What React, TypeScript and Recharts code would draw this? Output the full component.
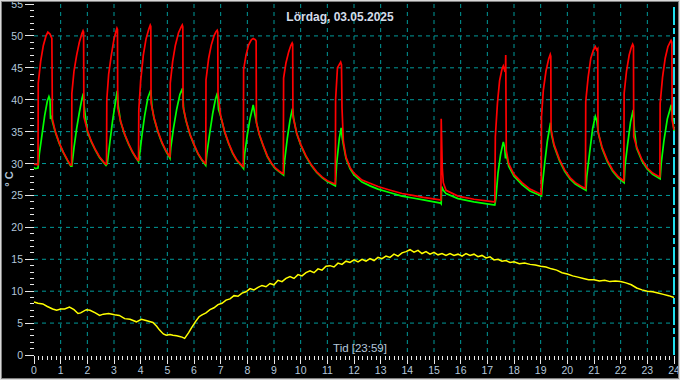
import { LineChart, Line, XAxis, YAxis, CartesianGrid, ReferenceLine } from 'recharts'

// supply temperature (red), hours -> °C
const supplyTemp: [number, number][] = [
  [0, 29.9], [0.15, 29.8], [0.16, 42.6], [0.25, 46.0], [0.35, 48.5], [0.45, 50.0], [0.52, 50.6], [0.6, 50.3], [0.67, 49.6], [0.69, 37.0], [0.8, 35.0], [0.95, 33.2], [1.1, 31.8], [1.25, 30.6], [1.36, 29.8],
  [1.41, 29.8], [1.42, 41.0], [1.5, 44.5], [1.6, 47.0], [1.7, 49.0], [1.8, 50.4], [1.84, 50.8], [1.86, 50.6], [1.87, 37.3], [2.0, 35.2], [2.15, 33.5], [2.3, 32.2], [2.45, 31.1], [2.6, 30.3], [2.69, 29.9],
  [2.72, 29.9], [2.73, 40.0], [2.8, 44.0], [2.9, 47.0], [3.0, 49.5], [3.08, 50.8], [3.11, 51.2], [3.13, 51.0], [3.14, 38.7], [3.25, 36.6], [3.4, 34.6], [3.55, 33.1], [3.7, 31.8], [3.82, 31.0], [3.9, 30.5],
  [3.92, 30.5], [3.93, 38.4], [4.0, 43.0], [4.1, 47.0], [4.2, 49.5], [4.3, 51.0], [4.36, 51.7], [4.38, 51.5], [4.39, 39.5], [4.5, 37.2], [4.65, 35.0], [4.8, 33.3], [4.95, 32.0], [5.09, 31.1],
  [5.1, 31.1], [5.11, 42.6], [5.2, 46.0], [5.3, 48.5], [5.42, 50.5], [5.52, 51.4], [5.56, 51.7], [5.58, 51.4], [5.59, 39.0], [5.7, 36.8], [5.85, 34.6], [6.0, 33.0], [6.15, 31.6], [6.3, 30.6], [6.43, 30.0],
  [6.44, 30.0], [6.45, 43.1], [6.55, 46.5], [6.65, 48.6], [6.75, 50.0], [6.83, 50.7], [6.87, 50.9], [6.89, 50.6], [6.9, 41.0], [7.0, 37.5], [7.15, 35.0], [7.3, 33.2], [7.45, 31.7], [7.6, 30.6], [7.75, 29.9], [7.84, 29.5],
  [7.85, 29.5], [7.86, 44.7], [7.95, 47.0], [8.05, 48.6], [8.15, 49.4], [8.22, 49.6], [8.3, 49.4], [8.33, 49.2], [8.34, 36.4], [8.45, 34.6], [8.6, 32.8], [8.75, 31.2], [8.9, 30.1], [9.05, 29.3], [9.2, 28.8], [9.34, 28.4],
  [9.35, 28.4], [9.36, 43.4], [9.45, 45.8], [9.55, 47.5], [9.63, 48.5], [9.68, 48.9], [9.7, 48.7], [9.71, 37.4], [9.85, 34.8], [10.0, 33.0], [10.2, 31.2], [10.4, 29.8], [10.6, 28.7], [10.8, 27.9], [11.0, 27.3], [11.28, 26.8],
  [11.3, 26.8], [11.31, 40.0], [11.38, 45.0], [11.5, 45.9], [11.53, 45.5], [11.55, 38.7], [11.6, 33.5], [11.7, 31.0], [11.85, 29.4], [12.0, 28.5], [12.3, 27.4], [12.6, 26.9], [12.9, 26.4], [13.3, 25.9], [13.8, 25.3], [14.2, 25.0], [14.6, 24.7], [15.23, 24.3],
  [15.26, 24.3], [15.27, 37.0], [15.31, 29.3], [15.35, 27.0], [15.45, 25.8], [15.9, 24.9], [16.5, 24.4], [17.25, 24.0],
  [17.28, 24.0], [17.3, 34.2], [17.38, 39.5], [17.46, 43.0], [17.55, 44.8], [17.6, 45.3], [17.65, 44.6], [17.68, 44.8], [17.69, 47.0], [17.71, 32.1], [17.8, 30.0], [18.0, 28.3], [18.3, 27.0], [18.6, 26.0], [19.01, 25.2],
  [19.02, 25.2], [19.03, 37.3], [19.1, 41.5], [19.2, 44.5], [19.3, 46.4], [19.36, 47.1], [19.38, 46.8], [19.39, 35.3], [19.5, 33.0], [19.7, 30.7], [19.9, 29.0], [20.1, 27.8], [20.3, 27.0], [20.5, 26.5], [20.67, 26.1],
  [20.68, 26.1], [20.69, 39.7], [20.78, 43.5], [20.88, 46.5], [20.98, 47.8], [21.05, 48.3], [21.1, 47.8], [21.14, 48.0], [21.15, 35.0], [21.3, 32.6], [21.5, 30.5], [21.7, 29.0], [21.9, 28.0], [22.11, 27.3],
  [22.12, 27.3], [22.13, 41.0], [22.22, 44.5], [22.32, 47.0], [22.4, 48.2], [22.45, 48.7], [22.48, 48.4], [22.49, 34.2], [22.6, 32.6], [22.8, 30.6], [23.0, 29.3], [23.2, 28.5], [23.46, 27.9],
  [23.47, 27.9], [23.48, 39.4], [23.57, 43.5], [23.67, 46.5], [23.77, 48.3], [23.85, 49.0], [23.89, 49.3], [23.92, 49.0], [23.93, 36.8], [24.0, 35.3],
]

// return temperature (green)
const returnTemp: [number, number][] = [
  [0, 29.4], [0.05, 29.2], [0.15, 29.3], [0.2, 31.5], [0.3, 34.5], [0.4, 37.5], [0.5, 39.8], [0.56, 40.5], [0.6, 40.0], [0.62, 37.0], [0.66, 37.5], [0.69, 36.6], [0.8, 34.9], [0.95, 33.1], [1.1, 31.7], [1.25, 30.5], [1.38, 29.6],
  [1.42, 29.6], [1.5, 32.5], [1.6, 35.5], [1.7, 38.0], [1.8, 40.2], [1.85, 41.0], [1.88, 39.0], [2.0, 35.0], [2.15, 33.4], [2.3, 32.1], [2.45, 31.0], [2.6, 30.2], [2.7, 29.7],
  [2.75, 30.0], [2.85, 33.5], [2.95, 36.8], [3.05, 39.5], [3.12, 41.4], [3.16, 39.0], [3.25, 36.5], [3.4, 34.5], [3.55, 33.0], [3.7, 31.7], [3.82, 30.9], [3.92, 30.3],
  [3.95, 31.0], [4.05, 34.5], [4.15, 37.5], [4.27, 40.3], [4.38, 41.5], [4.42, 39.0], [4.5, 37.1], [4.65, 34.9], [4.8, 33.2], [4.95, 31.9], [5.1, 30.8],
  [5.13, 32.5], [5.23, 35.5], [5.35, 38.5], [5.47, 40.8], [5.57, 41.8], [5.61, 38.5], [5.7, 36.7], [5.85, 34.5], [6.0, 32.9], [6.15, 31.5], [6.3, 30.5], [6.44, 29.7],
  [6.48, 31.5], [6.58, 34.5], [6.7, 37.8], [6.8, 40.0], [6.88, 41.1], [6.92, 38.5], [7.0, 37.4], [7.15, 34.9], [7.3, 33.1], [7.45, 31.6], [7.6, 30.5], [7.75, 29.8], [7.86, 29.2],
  [7.9, 31.5], [8.0, 34.5], [8.1, 37.0], [8.22, 39.2], [8.27, 38.0], [8.35, 36.3], [8.45, 34.5], [8.6, 32.7], [8.75, 31.1], [8.9, 30.0], [9.05, 29.2], [9.2, 28.7], [9.36, 28.2],
  [9.4, 30.5], [9.5, 34.0], [9.6, 36.8], [9.69, 38.6], [9.74, 37.0], [9.85, 34.7], [10.0, 32.9], [10.2, 31.1], [10.4, 29.7], [10.6, 28.6], [10.8, 27.8], [11.0, 27.2], [11.3, 26.5],
  [11.35, 30.0], [11.45, 34.0], [11.52, 35.6], [11.56, 34.0], [11.6, 33.0], [11.7, 30.8], [11.85, 29.2], [12.0, 28.2], [12.3, 27.1], [12.6, 26.5], [12.9, 26.0], [13.3, 25.5], [13.8, 24.9], [14.2, 24.6], [14.6, 24.3], [15.25, 23.8],
  [15.27, 23.7], [15.29, 26.4], [15.35, 25.8], [15.45, 25.3], [15.9, 24.5], [16.5, 24.0], [17.28, 23.5],
  [17.32, 24.5], [17.4, 28.5], [17.5, 31.5], [17.6, 33.4], [17.65, 32.5], [17.68, 30.8], [17.71, 31.5], [17.8, 29.6], [18.0, 28.0], [18.3, 26.7], [18.6, 25.7], [19.03, 24.9],
  [19.06, 26.5], [19.15, 30.0], [19.25, 33.5], [19.37, 36.4], [19.41, 34.5], [19.5, 32.8], [19.7, 30.5], [19.9, 28.8], [20.1, 27.6], [20.3, 26.8], [20.5, 26.3], [20.7, 25.8],
  [20.73, 28.0], [20.83, 31.5], [20.95, 35.5], [21.05, 37.4], [21.1, 36.8], [21.17, 34.6], [21.3, 32.4], [21.5, 30.3], [21.7, 28.8], [21.9, 27.8], [22.13, 27.0],
  [22.16, 29.5], [22.26, 33.0], [22.37, 36.5], [22.47, 38.4], [22.52, 35.0], [22.6, 32.4], [22.8, 30.4], [23.0, 29.1], [23.2, 28.3], [23.48, 27.6],
  [23.52, 30.0], [23.62, 33.5], [23.75, 37.0], [23.9, 39.2], [23.95, 37.0], [24.0, 35.1],
]

// outdoor temperature (yellow)
const outdoorTemp: [number, number][] = [
  [0, 8.3], [0.15, 8.1], [0.33, 8.0], [0.5, 7.6], [0.7, 7.2], [0.85, 7.0], [1.0, 7.2], [1.15, 7.2], [1.33, 7.5], [1.5, 7.1], [1.65, 6.5], [1.75, 6.6],
  [1.96, 7.1], [2.1, 7.0], [2.3, 6.6], [2.46, 6.2], [2.6, 6.4], [2.8, 6.5], [3.02, 6.3], [3.2, 6.2], [3.4, 5.7], [3.6, 5.6], [3.84, 5.2], [4.03, 5.6],
  [4.2, 5.4], [4.46, 5.1], [4.6, 4.5], [4.71, 3.9], [4.85, 3.3], [4.96, 3.1], [5.1, 3.2], [5.21, 3.1], [5.35, 3.0], [5.46, 2.9], [5.55, 2.8], [5.65, 2.6],
  [5.8, 3.5], [5.9, 4.2], [6.05, 5.2], [6.19, 6.0], [6.3, 6.3], [6.45, 6.6], [6.6, 7.1], [6.75, 7.4], [6.9, 7.9], [7.05, 8.1], [7.2, 8.6], [7.35, 8.8],
  [7.5, 9.3], [7.65, 9.2], [7.8, 9.7], [7.95, 9.9], [8.1, 10.4], [8.25, 10.2], [8.4, 10.6], [8.55, 10.9], [8.7, 10.7], [8.85, 11.2], [9.0, 11.0], [9.15, 11.7],
  [9.3, 11.5], [9.45, 12.0], [9.6, 12.3], [9.75, 12.0], [9.9, 12.6], [10.05, 12.4], [10.2, 12.9], [10.35, 13.2], [10.5, 12.9], [10.65, 13.5], [10.8, 13.3],
  [10.95, 13.9], [11.1, 14.0], [11.25, 13.8], [11.4, 14.4], [11.55, 14.2], [11.7, 14.7], [11.85, 14.5], [12.0, 14.9], [12.15, 14.6], [12.3, 15.0], [12.45, 14.7],
  [12.6, 15.1], [12.75, 14.8], [12.9, 15.3], [13.05, 15.1], [13.2, 15.5], [13.35, 15.3], [13.5, 15.8], [13.65, 15.5], [13.8, 16.0], [13.95, 16.2], [14.1, 16.5],
  [14.25, 16.1], [14.4, 16.4], [14.55, 15.9], [14.7, 16.2], [14.85, 15.8], [15.0, 16.1], [15.15, 15.7], [15.3, 15.9], [15.45, 15.6], [15.6, 15.9], [15.75, 15.6],
  [15.9, 15.8], [16.05, 15.5], [16.2, 15.9], [16.35, 15.6], [16.5, 15.8], [16.65, 15.4], [16.8, 15.6], [16.95, 15.2], [17.1, 15.4], [17.25, 14.9], [17.4, 15.0],
  [17.55, 14.7], [17.7, 14.8], [17.85, 14.5], [18.0, 14.6], [18.2, 14.3], [18.4, 14.4], [18.6, 14.2], [18.8, 14.1], [19.0, 13.9], [19.2, 13.8], [19.4, 13.5],
  [19.6, 13.3], [19.8, 12.9], [20.0, 12.7], [20.2, 12.4], [20.4, 12.2], [20.6, 12.0], [20.8, 11.8], [21.0, 11.8], [21.2, 11.6], [21.4, 11.7], [21.6, 11.5],
  [21.8, 11.6], [22.0, 11.5], [22.2, 11.3], [22.4, 11.0], [22.6, 10.5], [22.8, 10.2], [23.0, 10.0], [23.2, 9.9], [23.4, 9.7], [23.6, 9.5], [23.8, 9.3], [24.0, 9.0],
]

const hourLabels = [0, 1, 2, 3, 4, 5, 6, 7, 8, 9, 10, 11, 12, 13, 14, 15, 16, 17, 18, 19, 20, 21, 22, 23, 24]
const tempLabels = [0, 5, 10, 15, 20, 25, 30, 35, 40, 45, 50, 55]

const minorX: number[] = []
for (let i = 0; i <= 24 * 6; i++) minorX.push(i / 6)
const minorY: number[] = []
for (let i = 0; i <= 55; i++) minorY.push(i)

const toRows = (pts: [number, number][]) => pts.map(([t, v]) => ({ t, v }))

const LEFT = 34
const BOTTOM = 355
const labelColor = '#b4c8dc'
const font = '"Liberation Sans", Arial, sans-serif'

const YTick = (props: any) => {
  const { y, payload } = props
  const v = payload.value
  const major = tempLabels.includes(v)
  return (
    <g>
      <line x1={major ? 25 : 30} x2={LEFT} y1={y} y2={y} stroke="#e8e8e8" shapeRendering="crispEdges" />
      {major && (
        <text x={23} y={y + 4} textAnchor="end" fill={labelColor} fontSize={10.5} fontFamily={font}>
          {v}
        </text>
      )}
    </g>
  )
}

const XTick = (props: any) => {
  const { x, payload } = props
  const v = payload.value
  const h = Math.round(v)
  const major = Math.abs(v - h) < 1e-6 && hourLabels.includes(h)
  return (
    <g>
      <line x1={x} x2={x} y1={BOTTOM + 1} y2={BOTTOM + (major ? 9 : 5)} stroke="#e8e8e8" shapeRendering="crispEdges" />
      {major && (
        <text x={x} y={BOTTOM + 19} textAnchor="middle" fill={labelColor} fontSize={10.5} fontFamily={font}>
          {h}
        </text>
      )}
    </g>
  )
}

export default function App() {
  return (
    <div style={{ position: 'fixed', left: 0, top: 0, width: 680, height: 380, background: '#000' }}>
      <LineChart width={680} height={380} margin={{ top: 4, right: 6, left: 0, bottom: 0 }}>
        <CartesianGrid
          stroke="#009a9a"
          strokeDasharray="4 4"
          horizontalValues={tempLabels.slice(1, -1)}
          verticalValues={hourLabels.slice(1, -1)}
        />
        <XAxis
          type="number"
          dataKey="t"
          domain={[0, 24]}
          ticks={minorX}
          interval={0}
          axisLine={false}
          tickLine={false}
          tick={<XTick />}
          height={25}
        />
        <YAxis
          type="number"
          domain={[0, 55]}
          ticks={minorY}
          interval={0}
          axisLine={false}
          tickLine={false}
          tick={<YTick />}
          width={34}
        />
        <ReferenceLine x={24} stroke="#20e0f0" strokeWidth={2} strokeDasharray="18 3 6 3" />
        <Line data={toRows(returnTemp)} dataKey="v" stroke="#00ff00" strokeWidth={1.7} dot={false} isAnimationActive={false} />
        <Line data={toRows(supplyTemp)} dataKey="v" stroke="#ff0000" strokeWidth={1.7} dot={false} isAnimationActive={false} />
        <Line data={toRows(outdoorTemp)} dataKey="v" stroke="#ffff00" strokeWidth={1.5} dot={false} isAnimationActive={false} />
      </LineChart>
      <svg width={680} height={380} style={{ position: 'absolute', left: 0, top: 0, pointerEvents: 'none' }}>
        <text x={340} y={21} textAnchor="middle" fill="#d4dce8" fontSize={12} fontWeight="bold" fontFamily={font}>
          Lördag, 03.05.2025
        </text>
        <text x={360} y={352} textAnchor="middle" fill={labelColor} fontSize={11.5} fontFamily={font}>
          Tid [23:59]
        </text>
        <text x={13} y={179} textAnchor="middle" fill={labelColor} fontSize={11} fontWeight="bold" fontFamily={font} transform="rotate(-90 13 179)">
          ° C
        </text>
        <rect x={0.5} y={0.5} width={679} height={379} fill="none" stroke="#d8d8d8" strokeWidth={1} />
        <rect x={1.5} y={1.5} width={677} height={377} fill="none" stroke="#808080" strokeWidth={1} />
      </svg>
    </div>
  )
}
